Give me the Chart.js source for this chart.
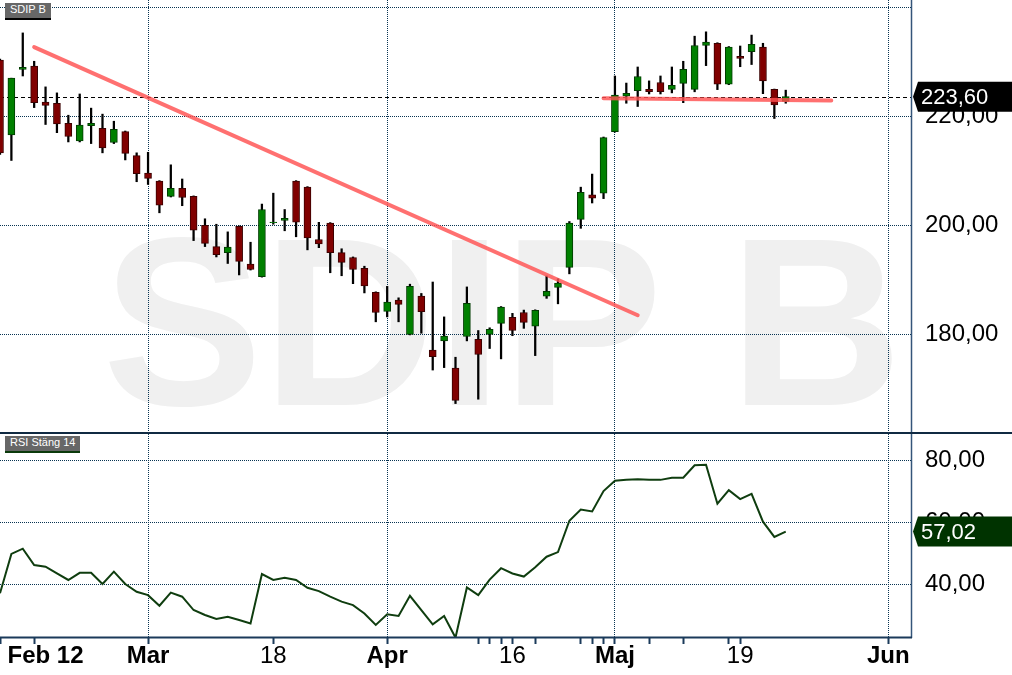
<!DOCTYPE html>
<html><head><meta charset="utf-8">
<script src="https://cdn.jsdelivr.net/npm/chart.js@4/dist/chart.umd.min.js"></script>
<style>
html,body{margin:0;padding:0;background:#fff;width:1012px;height:675px;overflow:hidden;}
#wrap{position:relative;width:1012px;height:675px;background:#fff;}
#priceCanvas{position:absolute;left:0;top:0;}
#rsiCanvas{position:absolute;left:0;top:434px;}
#sep{position:absolute;left:0;top:431.5px;width:1012px;height:2.5px;background:#102a42;}
.tag{position:absolute;left:5px;height:15px;line-height:15px;background:#676767;color:#fff;font:11px 'Liberation Sans',Arial,sans-serif;padding:0 5px;white-space:nowrap;}
#tagPrice{top:3px;border-bottom:2px solid #000;}
#tagRsi{top:436px;border-bottom:2px solid #0b3a0b;}
</style></head>
<body><div id="wrap">
<canvas id="priceCanvas" width="1012" height="433"></canvas>
<div id="sep"></div>
<canvas id="rsiCanvas" width="1012" height="241"></canvas>
<div class="tag" id="tagPrice">SDIP B</div>
<div class="tag" id="tagRsi">RSI Stäng 14</div>
</div>
<script>
const FONT = "'Liberation Sans', Arial, sans-serif";

// ---- data ----
const categories = [
 '2019-02-12','2019-02-13','2019-02-14','2019-02-15','2019-02-18','2019-02-19','2019-02-20','2019-02-21','2019-02-22',
 '2019-02-25','2019-02-26','2019-02-27','2019-02-28','2019-03-01','2019-03-04','2019-03-05','2019-03-06','2019-03-07',
 '2019-03-08','2019-03-11','2019-03-12','2019-03-13','2019-03-14','2019-03-15','2019-03-18','2019-03-19','2019-03-20',
 '2019-03-21','2019-03-22','2019-03-25','2019-03-26','2019-03-27','2019-03-28','2019-03-29','2019-04-01','2019-04-02',
 '2019-04-03','2019-04-04','2019-04-05','2019-04-08','2019-04-09','2019-04-10','2019-04-11','2019-04-12','2019-04-15',
 '2019-04-16','2019-04-17','2019-04-18','2019-04-23','2019-04-24','2019-04-25','2019-04-26','2019-04-29','2019-04-30',
 '2019-05-02','2019-05-03','2019-05-06','2019-05-07','2019-05-08','2019-05-09','2019-05-10','2019-05-13','2019-05-14',
 '2019-05-15','2019-05-16','2019-05-17','2019-05-20','2019-05-21','2019-05-22','2019-05-23',
 '2019-05-24','2019-05-27','2019-05-28','2019-05-29','2019-05-30','2019-05-31','2019-06-03','2019-06-04','2019-06-05',
 '2019-06-06','2019-06-07'
];
const opens = [230.3,216.6,228.6,229.2,222.6,222.4,218.7,215.5,218.3,217.8,215.2,217.2,212.8,209.6,208.1,205.3,206.8,205.3,
 200.0,196.1,195.0,199.8,192.9,190.6,200.5,200.9,208.1,207.0,197.4,200.4,195.0,194.1,192.1,187.7,184.2,186.3,
 180.0,187.0,177.1,178.8,173.8,179.6,179.1,180.0,182.0,183.1,184.0,181.5,187.0,188.6,192.3,201.1,205.6,205.9,
 217.2,223.7,224.7,224.95,226.2,224.95,226.05,224.95,233.0,233.4,225.9,231.0,231.85,232.7,224.95,222.75];
const highs = [230.5,227.0,235.3,230.1,225.4,224.3,220.2,224.1,221.5,220.4,219.1,217.3,213.3,213.4,208.2,211.1,208.5,205.4,
 201.2,200.2,198.8,199.9,196.9,203.9,205.9,202.9,208.2,207.1,200.55,200.5,195.7,194.2,192.5,187.8,188.8,186.7,
 189.2,187.5,189.6,183.2,175.8,188.7,180.7,181.2,185.1,183.85,184.45,184.5,190.7,190.2,200.7,207.0,209.4,216.2,
 227.4,226.1,229.05,226.5,227.4,229.05,230.1,234.7,235.5,233.5,232.8,232.9,234.9,233.4,225.0,224.8];
const lows = [213.0,211.9,227.4,221.6,218.5,217.0,215.3,215.3,215.0,213.3,215.0,212.0,208.0,207.5,202.3,205.2,203.6,197.2,
 196.1,194.2,193.0,190.9,191.8,190.5,200.2,199.0,197.9,195.5,195.9,191.3,190.75,189.3,187.6,182.3,183.2,182.3,
 179.9,180.2,173.45,173.9,167.3,178.8,168.1,177.4,175.5,179.75,181.1,176.1,186.6,185.6,191.1,199.45,204.1,204.9,
 217.1,222.4,221.8,224.1,224.1,224.3,222.5,224.5,229.3,224.9,225.8,229.1,229.5,224.15,219.6,222.4];
const closes = [213.3,227.0,229.0,222.5,222.0,218.6,216.3,218.4,218.7,214.2,217.6,213.2,209.5,208.6,203.7,206.8,205.1,199.1,
 196.7,194.6,196.0,193.4,191.9,202.9,200.6,201.3,200.6,197.7,196.6,195.0,193.2,191.9,188.9,184.0,185.9,185.5,
 188.8,184.15,175.9,179.7,167.9,185.7,176.3,180.9,185.0,180.7,182.2,184.4,187.9,189.4,200.4,206.05,205.0,216.1,
 223.9,224.2,227.3,224.5,224.5,225.7,228.6,233.0,233.6,225.9,232.7,230.6,233.2,226.5,222.1,223.6];
const rsiValues = [37.1,49.8,51.5,46.2,45.7,43.5,41.4,43.7,43.7,40.1,44.1,40.1,37.6,36.5,33.1,37.3,36.0,31.7,
 30.1,28.8,29.5,28.5,27.4,43.3,41.4,42.1,41.4,38.9,37.8,36.0,34.4,33.3,30.6,26.9,30.3,29.8,
 36.3,31.7,27.1,29.8,22.8,39.0,36.5,41.5,45.2,43.5,42.5,45.5,48.9,50.4,60.5,64.1,63.5,70.1,
 73.4,73.7,73.9,73.7,73.7,74.4,74.4,78.4,78.6,66.0,70.4,67.5,69.2,60.2,55.3,57.02];

const trendDownDates = ['2019-02-15','2019-05-06'];
const trendDownPrices = [232.7, 183.5];
const trendFlatDates = ['2019-04-30','2019-05-29'];
const trendFlatPrices = [223.3, 222.9];

const priceGrid = [180, 200, 220, 240];
const priceLabels = [180, 200, 220];
const rsiGrid = [40, 60, 80];
const xLabelIndex = [4, 13, 24, 34, 45, 54, 65, 78];
const xLabelText = ['Feb 12','Mar','18','Apr','16','Maj','19','Jun'];
const xLabelBold = [true, true, false, true, false, true, false, true];
const xMonthLines = [13, 34, 54, 78];
const xTickMarks = [0,3,13,24,34,42,43,44,45,47,51,52,53,54,57,60,64,65,78];

// ---- styles ----
const GRID = '#083452';
const UP = '#008000', UP_EDGE = '#003c00', DOWN = '#800000', DOWN_EDGE = '#3a0000';
const fmt = v => Number(v).toFixed(2).replace('.', ',');

const decor = {
  id: 'decor',
  beforeDraw(chart, a, o) {
    if (!o.watermark) return;
    const c = chart.ctx; c.save();
    c.font = 'bold 240px ' + FONT; c.fillStyle = '#f0f0f0';
    c.textBaseline = 'alphabetic'; c.textAlign = 'left';
    c.fillText(o.watermark, 102.5, 405);
    c.restore();
  },
  beforeDatasetsDraw(chart, a, o) {
    if (o.priceLine == null) return;
    const {ctx, chartArea, scales} = chart;
    const y = Math.round(scales.y.getPixelForValue(o.priceLine)) + 0.5;
    ctx.save(); ctx.strokeStyle = '#000'; ctx.lineWidth = 1; ctx.setLineDash([4, 3]);
    ctx.beginPath(); ctx.moveTo(chartArea.left, y); ctx.lineTo(chartArea.right, y); ctx.stroke();
    ctx.restore();
  },
  afterDraw(chart, a, o) {
    const {ctx, chartArea, scales, width} = chart;
    ctx.save();
    ctx.strokeStyle = '#34557a'; ctx.lineWidth = 1.5;
    ctx.beginPath(); ctx.moveTo(chartArea.right + 0.5, 0); ctx.lineTo(chartArea.right + 0.5, chartArea.bottom + 1); ctx.stroke();
    if (o.axisLine) {
      ctx.strokeStyle = '#1b3a5a'; ctx.lineWidth = 2;
      ctx.beginPath(); ctx.moveTo(0, chartArea.bottom + 0.5); ctx.lineTo(chartArea.right + 1, chartArea.bottom + 0.5); ctx.stroke();
    }
    if (o.badgeValue != null) {
      const y = scales.y.getPixelForValue(o.badgeValue);
      const x = chartArea.right + 2, h = 30;
      ctx.fillStyle = o.badgeColor;
      ctx.beginPath();
      ctx.moveTo(x, y);
      ctx.lineTo(x + 5, y - h / 2);
      ctx.lineTo(width, y - h / 2);
      ctx.lineTo(width, y + h / 2);
      ctx.lineTo(x + 5, y + h / 2);
      ctx.closePath(); ctx.fill();
      ctx.fillStyle = '#fff'; ctx.font = '22px ' + FONT;
      ctx.textBaseline = 'middle'; ctx.textAlign = 'left';
      ctx.fillText(fmt(o.badgeValue), x + 8, y + 1);
    }
    ctx.restore();
  }
};

function xScale(showLabels) {
  return {
    type: 'category', offset: false,
    grid: {
      offset: false,
      color: c => xMonthLines.includes(c.index) ? GRID : 'rgba(0,0,0,0)',
      lineWidth: 1,
      drawTicks: showLabels, tickLength: 7, tickWidth: 2,
      tickColor: c => xTickMarks.includes(c.index) ? '#1b3a5a' : 'rgba(0,0,0,0)'
    },
    border: {display: false, dash: [1, 1]},
    ticks: {
      display: showLabels, autoSkip: false, maxRotation: 0, minRotation: 0, padding: -2, color: '#000',
      callback: (v, i) => { const k = xLabelIndex.indexOf(i); return k >= 0 ? xLabelText[k] : ''; },
      font: c => { const k = xLabelIndex.indexOf(c.index); return {family: FONT, size: 24, weight: (k >= 0 && xLabelBold[k]) ? 'bold' : 'normal'}; }
    },
    afterFit: s => { s.height = showLabels ? 38 : 0; s.paddingLeft = 0; s.paddingRight = 0; }
  };
}
function yScale(min, max, grid, labelled) {
  return {
    position: 'right', min, max,
    grid: {color: GRID, lineWidth: 1, drawTicks: false},
    border: {display: false, dash: [1, 1]},
    afterBuildTicks: s => { s.ticks = grid.map(v => ({value: v})); },
    ticks: {
      padding: 14, color: '#000', font: {family: FONT, size: 24},
      callback: v => labelled.includes(v) ? fmt(v) : ''
    },
    afterFit: s => { s.width = 101; s.paddingTop = 0; s.paddingBottom = 0; }
  };
}

Chart.defaults.font.family = FONT;

new Chart(document.getElementById('priceCanvas'), {
  type: 'bar',
  data: {
    labels: categories,
    datasets: [
      {type: 'line', data: trendDownDates.map((d, k) => ({x: d, y: trendDownPrices[k]})),
       borderColor: 'rgba(255,80,80,0.82)', borderWidth: 4, pointRadius: 0, borderCapStyle: 'round', order: 0},
      {type: 'line', data: trendFlatDates.map((d, k) => ({x: d, y: trendFlatPrices[k]})),
       borderColor: 'rgba(255,80,80,0.82)', borderWidth: 4, pointRadius: 0, borderCapStyle: 'round', order: 0},
      {type: 'bar', data: opens.map((o, i) => [o, closes[i]]), grouped: false, barThickness: 7,
       backgroundColor: closes.map((c, i) => c >= opens[i] ? UP : DOWN),
       borderColor: closes.map((c, i) => c >= opens[i] ? UP_EDGE : DOWN_EDGE),
       borderWidth: 1, borderSkipped: false, order: 1},
      {type: 'bar', data: lows.map((l, i) => [l, highs[i]]), grouped: false, barThickness: 1.6,
       backgroundColor: '#000', borderWidth: 0, order: 2}
    ]
  },
  options: {
    responsive: false, animation: false, devicePixelRatio: 1, events: [],
    layout: {padding: 0},
    plugins: {legend: {display: false}, tooltip: {enabled: false},
      decor: {watermark: 'SDIP B', priceLine: closes[closes.length - 1], badgeValue: closes[closes.length - 1], badgeColor: '#000'}},
    scales: {x: xScale(false), y: yScale(161.9, 241.34, priceGrid, priceLabels)}
  },
  plugins: [decor]
});

new Chart(document.getElementById('rsiCanvas'), {
  type: 'line',
  data: {
    labels: categories,
    datasets: [{data: rsiValues, borderColor: '#0f3d0f', borderWidth: 2, pointRadius: 0, tension: 0}]
  },
  options: {
    responsive: false, animation: false, devicePixelRatio: 1, events: [],
    layout: {padding: 0},
    plugins: {legend: {display: false}, tooltip: {enabled: false},
      decor: {axisLine: true, badgeValue: rsiValues[rsiValues.length - 1], badgeColor: '#003300'}},
    scales: {x: xScale(true), y: yScale(23.0, 88.5, rsiGrid, rsiGrid)}
  },
  plugins: [decor]
});
</script>
</body></html>
